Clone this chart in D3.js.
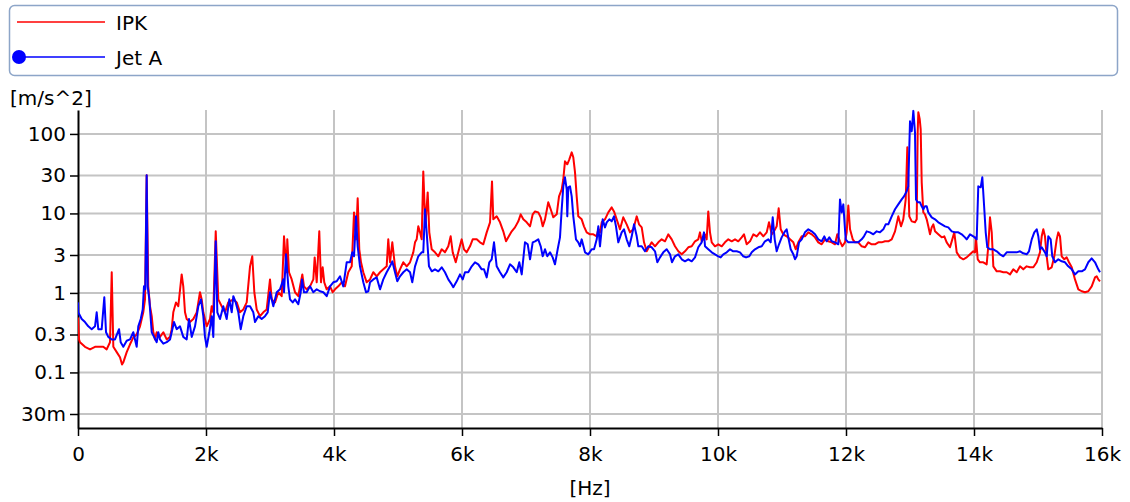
<!DOCTYPE html>
<html>
<head>
<meta charset="utf-8">
<script src="https://cdn.jsdelivr.net/npm/d3@7"></script>
<style>
  html, body { margin: 0; padding: 0; background: #ffffff; }
  svg { display: block; }
  text { font-family: "DejaVu Sans", Verdana, sans-serif; fill: #000; }
</style>
</head>
<body>
<svg id="chart" width="1130" height="502"></svg>
<script>
// Acceleration spectrum, IPK vs Jet A fuel
const seriesNames = ["IPK", "Jet A"];
const seriesColors = ["#ff0000", "#0000ff"];

const xTickValues = [0, 2000, 4000, 6000, 8000, 10000, 12000, 14000, 16000];
const xTickLabels = ["0", "2k", "4k", "6k", "8k", "10k", "12k", "14k", "16k"];
const yTickValues = [0.03, 0.1, 0.3, 1, 3, 10, 30, 100];
const yTickLabels = ["30m", "0.1", "0.3", "1", "3", "10", "30", "100"];

const ipkFreq = [0,16,31,109,188,266,344,395,448,500,527,552,605,656,688,708,761,813,864,917,969,1020,1047,1073,1098,1125,1152,1177,1203,1230,1281,1333,1386,1438,1464,1489,1531,1567,1620,1645,1672,1698,1750,1802,1855,1906,1933,1958,2011,2063,2089,2114,2152,2192,2245,2297,2348,2427,2480,2531,2583,2636,2688,2723,2755,2792,2844,2895,2948,3000,3027,3078,3130,3183,3219,3261,3270,3297,3339,3391,3442,3469,3505,3531,3573,3625,3677,3698,3730,3770,3797,3823,3848,3886,3938,3980,4016,4067,4120,4172,4223,4277,4313,4344,4370,4395,4422,4458,4511,4563,4614,4667,4719,4770,4823,4848,4875,4911,4953,4989,5031,5083,5136,5188,5239,5266,5292,5317,5344,5370,5395,5427,5464,5489,5527,5578,5630,5683,5734,5786,5823,5855,5902,5942,5995,6031,6073,6125,6167,6230,6281,6333,6386,6438,6469,6489,6542,6594,6645,6688,6723,6777,6828,6880,6917,6958,7011,7063,7105,7141,7192,7230,7261,7297,7348,7386,7427,7480,7516,7558,7583,7609,7645,7677,7714,7739,7766,7792,7817,7870,7906,7948,8000,8052,8105,8130,8156,8183,8234,8286,8339,8375,8417,8469,8520,8573,8625,8677,8730,8766,8808,8844,8886,8927,8964,9016,9067,9120,9172,9223,9277,9328,9380,9433,9484,9536,9589,9641,9692,9719,9745,9770,9797,9823,9848,9875,9902,9953,10005,10058,10109,10161,10214,10266,10317,10370,10406,10448,10500,10552,10605,10656,10708,10761,10797,10839,10875,10917,10948,10980,11020,11073,11125,11177,11214,11255,11308,11359,11411,11464,11516,11567,11620,11672,11723,11777,11828,11864,11906,11942,11984,12011,12036,12063,12105,12141,12192,12245,12297,12348,12402,12453,12505,12558,12609,12661,12714,12766,12817,12859,12895,12933,12958,12989,13027,13078,13105,13120,13130,13152,13167,13183,13208,13234,13261,13286,13313,13339,13364,13391,13442,13495,13536,13573,13625,13661,13692,13730,13781,13833,13886,13938,13989,14016,14031,14058,14094,14145,14198,14223,14250,14277,14302,14355,14406,14458,14511,14563,14614,14667,14719,14770,14823,14875,14927,14980,15031,15058,15083,15109,15136,15161,15214,15255,15292,15317,15344,15370,15411,15448,15484,15527,15578,15630,15683,15734,15786,15839,15891,15917,15942,15969];
const ipkAcc = [0.49,0.26,0.24,0.21,0.195,0.21,0.21,0.21,0.195,0.24,1.82,0.21,0.18,0.155,0.126,0.134,0.18,0.226,0.276,0.30,0.38,0.57,0.83,30.2,1.21,0.68,0.51,0.32,0.26,0.32,0.28,0.32,0.26,0.28,0.35,0.57,0.76,0.68,1.71,1.21,0.57,0.47,0.43,0.47,0.57,1.02,0.83,0.57,0.38,0.47,0.68,0.57,5.95,0.83,0.68,0.57,0.76,0.83,0.76,0.57,0.62,0.76,2.16,2.89,1.02,0.62,0.51,0.57,0.62,1.48,0.83,0.76,1.02,0.91,5.15,1.82,4.72,1.82,1.48,1.02,0.91,1.21,1.71,1.21,1.11,1.21,1.48,2.80,1.36,5.95,1.36,2.10,1.36,1.11,1.21,1.02,1.11,1.21,1.36,1.21,1.82,2.16,10.3,4.72,15.5,3.54,2.43,1.82,1.36,1.48,1.82,1.62,1.82,1.98,2.16,4.72,2.43,4.33,2.16,1.62,1.98,2.43,2.16,2.43,3.24,4.33,4.72,6.88,5.78,4.72,33.8,6.88,18.4,5.78,3.54,3.24,2.89,3.54,3.24,3.86,5.15,3.24,2.43,3.24,4.72,3.54,3.24,3.86,4.72,4.72,4.33,4.09,5.78,7.73,25.3,8.43,9.19,7.73,5.95,4.46,5.0,5.95,6.68,7.95,9.74,8.43,7.73,6.88,9.74,10.6,10.3,8.93,6.88,8.43,13.8,11.3,8.93,9.74,16.4,20.1,26.9,45.2,41.5,47.9,58.7,50.8,32.9,16.4,9.19,8.43,6.88,5.78,5.46,5.46,5.15,6.31,5.78,7.73,8.43,10.3,11.9,10.6,8.43,6.31,8.93,7.29,5.78,6.31,9.19,7.29,6.68,4.33,3.34,3.86,4.33,3.86,4.33,4.72,4.46,5.46,4.72,3.86,3.34,3.06,3.34,3.75,3.86,4.46,4.72,5.78,4.46,4.72,5.46,4.72,10.6,5.78,4.33,3.86,4.09,3.86,4.33,4.72,4.46,4.72,4.46,5.0,5.46,4.09,4.46,5.46,5.15,5.78,5.15,5.78,7.73,5.46,5.95,6.88,11.6,6.31,5.46,5.15,4.72,4.33,3.54,4.33,5.15,5.15,5.78,5.46,5.0,4.33,4.09,4.72,4.46,4.33,4.09,5.46,4.46,3.86,4.33,5.78,12.6,6.31,4.72,4.33,4.33,3.86,3.75,4.33,4.09,4.09,4.33,4.33,4.46,4.46,4.72,5.95,9.19,6.88,8.43,15.0,67.8,9.19,7.95,7.73,8.43,105,187,153,114,24.6,10.3,9.74,8.43,6.88,5.46,6.68,7.29,5.95,5.46,5.0,5.15,4.33,3.75,4.72,5.78,3.24,2.80,2.65,2.80,3.06,3.34,3.24,5.0,2.65,2.43,2.43,2.29,3.86,8.93,5.78,2.16,1.87,1.87,1.82,1.82,1.71,1.98,1.82,2.16,1.98,2.16,2.10,2.10,2.43,3.24,5.15,6.31,5.15,2.89,1.98,2.10,2.89,4.72,5.78,5.15,2.89,2.65,2.80,2.43,2.10,1.48,1.11,1.05,1.02,1.05,1.21,1.57,1.62,1.48,1.40];

const jetFreq = [0,5,58,109,161,214,266,292,317,370,411,438,473,527,578,641,667,708,761,813,864,917,942,980,1011,1031,1052,1073,1089,1114,1152,1188,1230,1255,1281,1333,1386,1438,1464,1500,1542,1594,1645,1698,1734,1777,1828,1880,1922,1958,1984,2011,2052,2089,2114,2152,2177,2219,2270,2323,2364,2402,2427,2464,2505,2542,2583,2636,2688,2739,2766,2817,2870,2922,2964,3000,3052,3105,3156,3208,3219,3250,3286,3313,3355,3391,3442,3480,3500,3531,3573,3625,3677,3730,3781,3833,3886,3938,3989,4042,4094,4145,4198,4250,4286,4313,4344,4370,4406,4458,4500,4536,4563,4614,4667,4719,4770,4823,4875,4911,4953,4989,5031,5083,5136,5188,5223,5266,5317,5370,5395,5422,5448,5484,5527,5578,5630,5683,5734,5786,5839,5864,5917,5969,6011,6047,6098,6152,6203,6255,6308,6344,6386,6427,6464,6500,6542,6594,6645,6698,6750,6802,6855,6895,6933,6984,7027,7063,7105,7141,7192,7230,7261,7297,7333,7375,7417,7453,7495,7531,7558,7583,7609,7636,7645,7661,7688,7714,7739,7781,7817,7844,7870,7922,7973,8027,8063,8105,8130,8156,8198,8234,8261,8302,8339,8375,8406,8442,8495,8531,8573,8614,8652,8688,8730,8755,8808,8859,8911,8964,9016,9052,9094,9145,9198,9250,9281,9328,9380,9433,9484,9536,9589,9641,9692,9745,9781,9797,9848,9902,9953,10005,10042,10083,10136,10188,10239,10292,10344,10395,10438,10489,10527,10578,10630,10683,10734,10786,10823,10855,10886,10917,10953,10995,11047,11073,11098,11136,11177,11203,11230,11266,11308,11359,11411,11464,11516,11567,11620,11661,11698,11739,11777,11828,11880,11906,11933,11958,11995,12036,12089,12141,12192,12245,12281,12323,12375,12427,12480,12531,12583,12620,12661,12714,12766,12817,12870,12906,12948,12973,13000,13027,13052,13078,13094,13120,13156,13183,13208,13234,13261,13286,13339,13391,13442,13495,13547,13598,13652,13703,13755,13808,13859,13886,13938,13989,14042,14067,14105,14130,14161,14183,14208,14250,14302,14355,14406,14458,14511,14563,14614,14667,14719,14770,14823,14859,14902,14942,14980,15005,15031,15058,15109,15136,15161,15198,15223,15266,15317,15370,15422,15473,15527,15578,15630,15683,15734,15786,15839,15891,15942,15969];
const jetAcc = [0.76,0.57,0.47,0.43,0.38,0.35,0.38,0.57,0.35,0.35,0.88,0.32,0.28,0.26,0.26,0.35,0.24,0.21,0.25,0.26,0.32,0.21,0.38,0.47,0.62,1.21,1.11,30.2,1.21,0.83,0.32,0.28,0.24,0.32,0.26,0.23,0.24,0.26,0.32,0.43,0.35,0.38,0.28,0.26,0.47,0.28,0.38,0.68,0.83,0.51,0.28,0.21,0.32,0.51,0.28,4.46,0.57,0.47,0.68,0.47,0.83,0.57,0.91,0.76,0.57,0.35,0.51,0.68,0.68,0.57,0.43,0.51,0.47,0.51,0.57,1.02,0.68,1.02,1.11,1.48,1.02,3.06,1.21,0.83,0.76,0.83,0.72,1.02,1.48,1.02,1.02,1.21,1.02,1.11,1.05,1.02,0.91,1.21,1.36,1.40,1.62,1.21,2.43,2.43,3.24,2.89,9.19,3.86,2.16,1.36,1.02,1.05,1.36,1.48,1.57,1.11,1.48,1.82,2.16,2.50,1.82,1.40,1.62,1.82,1.98,1.82,1.36,2.16,2.89,3.24,3.24,11.3,5.78,2.16,1.87,1.98,1.87,2.10,1.82,1.48,1.28,1.18,1.40,1.71,1.48,1.82,1.82,2.16,2.43,2.29,1.98,1.98,1.57,2.43,2.65,4.33,2.16,1.82,1.57,1.82,2.29,2.10,1.82,2.43,1.71,4.33,4.09,2.65,4.33,4.46,4.72,3.86,2.89,3.54,2.89,3.24,2.80,2.29,3.54,5.0,11.3,21.9,28.5,20.1,9.19,21.3,21.9,16.4,9.19,4.72,4.33,3.86,4.72,3.24,3.06,3.54,3.54,4.72,6.88,3.86,8.43,6.68,7.73,8.43,7.95,9.19,6.88,4.33,5.78,6.31,4.72,3.86,5.15,7.29,5.15,3.86,3.86,3.34,3.86,3.75,3.34,2.43,2.80,3.24,3.54,3.06,2.43,2.89,3.06,2.65,2.50,2.65,2.50,2.80,3.75,4.33,5.78,3.86,3.54,3.24,3.06,2.89,2.80,3.06,3.24,3.54,3.34,3.34,3.24,2.89,2.80,2.89,3.24,3.54,3.75,3.86,4.46,4.72,4.33,8.93,4.72,3.34,4.09,5.0,5.95,6.31,5.0,3.54,3.06,2.65,2.89,4.33,4.72,5.78,6.31,5.95,5.46,4.72,4.46,5.15,4.46,5.0,4.46,4.33,4.09,15.0,10.3,13.0,4.72,4.33,4.33,4.33,4.33,4.72,5.15,5.95,5.78,5.46,5.95,5.78,6.31,7.29,7.29,9.19,11.3,13.0,15.0,16.4,19.0,21.9,144,108,195,105,15.0,13.8,13.8,12.3,11.3,12.3,12.3,10.3,8.93,8.43,7.73,7.29,6.88,6.68,5.95,5.78,5.78,5.46,5.0,4.72,5.46,5.15,4.72,21.9,21.3,28.5,11.3,5.78,3.75,3.54,3.54,3.34,3.06,2.89,3.24,3.24,3.24,3.24,3.34,3.15,3.06,3.34,4.72,5.78,6.31,5.15,3.54,3.75,3.24,2.89,5.15,4.72,2.89,2.43,2.65,2.50,2.43,2.16,1.98,1.71,1.87,1.87,1.98,2.43,2.72,2.43,1.98,1.82];

const svg = d3.select("#chart");
const plot = { left: 78, right: 1102, top: 110, bottom: 428 };

const x = d3.scaleLinear().domain([0, 16000]).range([plot.left, plot.right]);
const y = d3.scaleLog().domain([0.02, 200]).range([plot.bottom, plot.top]);

// horizontal grid
svg.append("g")
  .selectAll("line")
  .data(yTickValues)
  .join("line")
  .attr("x1", plot.left).attr("x2", plot.right)
  .attr("y1", d => y(d)).attr("y2", d => y(d))
  .attr("stroke", "#c4c4c4").attr("stroke-width", 2);

// vertical grid
svg.append("g")
  .selectAll("line")
  .data(xTickValues.slice(1))
  .join("line")
  .attr("x1", d => x(d)).attr("x2", d => x(d))
  .attr("y1", plot.top).attr("y2", plot.bottom)
  .attr("stroke", "#c4c4c4").attr("stroke-width", 2);

// axes
const xAxis = d3.axisBottom(x)
  .tickValues(xTickValues)
  .tickFormat((d, i) => xTickLabels[i])
  .tickSize(8).tickSizeOuter(0).tickPadding(11);
const gx = svg.append("g").attr("transform", `translate(0,${plot.bottom})`).call(xAxis);
gx.select(".domain").attr("stroke", "#000").attr("stroke-width", 2);
gx.selectAll(".tick line").attr("stroke", "#000").attr("stroke-width", 1.5);
gx.selectAll(".tick text").attr("font-size", 20).attr("font-family", "DejaVu Sans");

const yAxis = d3.axisLeft(y)
  .tickValues(yTickValues)
  .tickFormat((d, i) => yTickLabels[i])
  .tickSize(8).tickSizeOuter(0).tickPadding(4);
const gy = svg.append("g").attr("transform", `translate(${plot.left},0)`).call(yAxis);
gy.select(".domain").attr("stroke", "#000").attr("stroke-width", 2);
gy.selectAll(".tick line").attr("stroke", "#000").attr("stroke-width", 1.5);
gy.selectAll(".tick text").attr("font-size", 20).attr("font-family", "DejaVu Sans");

// axis titles
svg.append("text").attr("x", 10).attr("y", 105).attr("font-size", 20).text("[m/s^2]");
svg.append("text").attr("x", (plot.left + plot.right) / 2).attr("y", 495)
  .attr("text-anchor", "middle").attr("font-size", 20).text("[Hz]");

// spectra
const line = d3.line()
  .x(d => x(d[0]))
  .y(d => y(d[1]));

const series = [
  d3.zip(ipkFreq, ipkAcc),
  d3.zip(jetFreq, jetAcc)
];

svg.append("defs").append("clipPath").attr("id", "plotClip")
  .append("rect")
  .attr("x", plot.left).attr("y", plot.top - 2)
  .attr("width", plot.right - plot.left).attr("height", plot.bottom - plot.top + 2);

svg.append("g").attr("clip-path", "url(#plotClip)")
  .selectAll("path")
  .data(series)
  .join("path")
  .attr("d", line)
  .attr("fill", "none")
  .attr("stroke", (d, i) => seriesColors[i])
  .attr("stroke-width", 2)
  .attr("stroke-linejoin", "round");

// legend
const legend = svg.append("g");
legend.append("rect")
  .attr("x", 9.5).attr("y", 5.5).attr("width", 1108).attr("height", 70).attr("rx", 5)
  .attr("fill", "#fff").attr("stroke", "#8da5c8").attr("stroke-width", 1.5);
const rows = legend.selectAll("g.row").data(seriesNames).join("g")
  .attr("class", "row")
  .attr("transform", (d, i) => `translate(0,${22 + i * 35})`);
rows.append("line")
  .attr("x1", (d, i) => i === 1 ? 19 : 17).attr("x2", 105)
  .attr("y1", 0).attr("y2", 0)
  .attr("stroke", (d, i) => seriesColors[i]).attr("stroke-width", 1.5);
rows.filter((d, i) => i === 1).append("circle")
  .attr("cx", 19).attr("cy", 0).attr("r", 7).attr("fill", seriesColors[1]);
rows.append("text").attr("x", 116).attr("y", 8).attr("font-size", 20).text(d => d);
</script>
</body>
</html>
